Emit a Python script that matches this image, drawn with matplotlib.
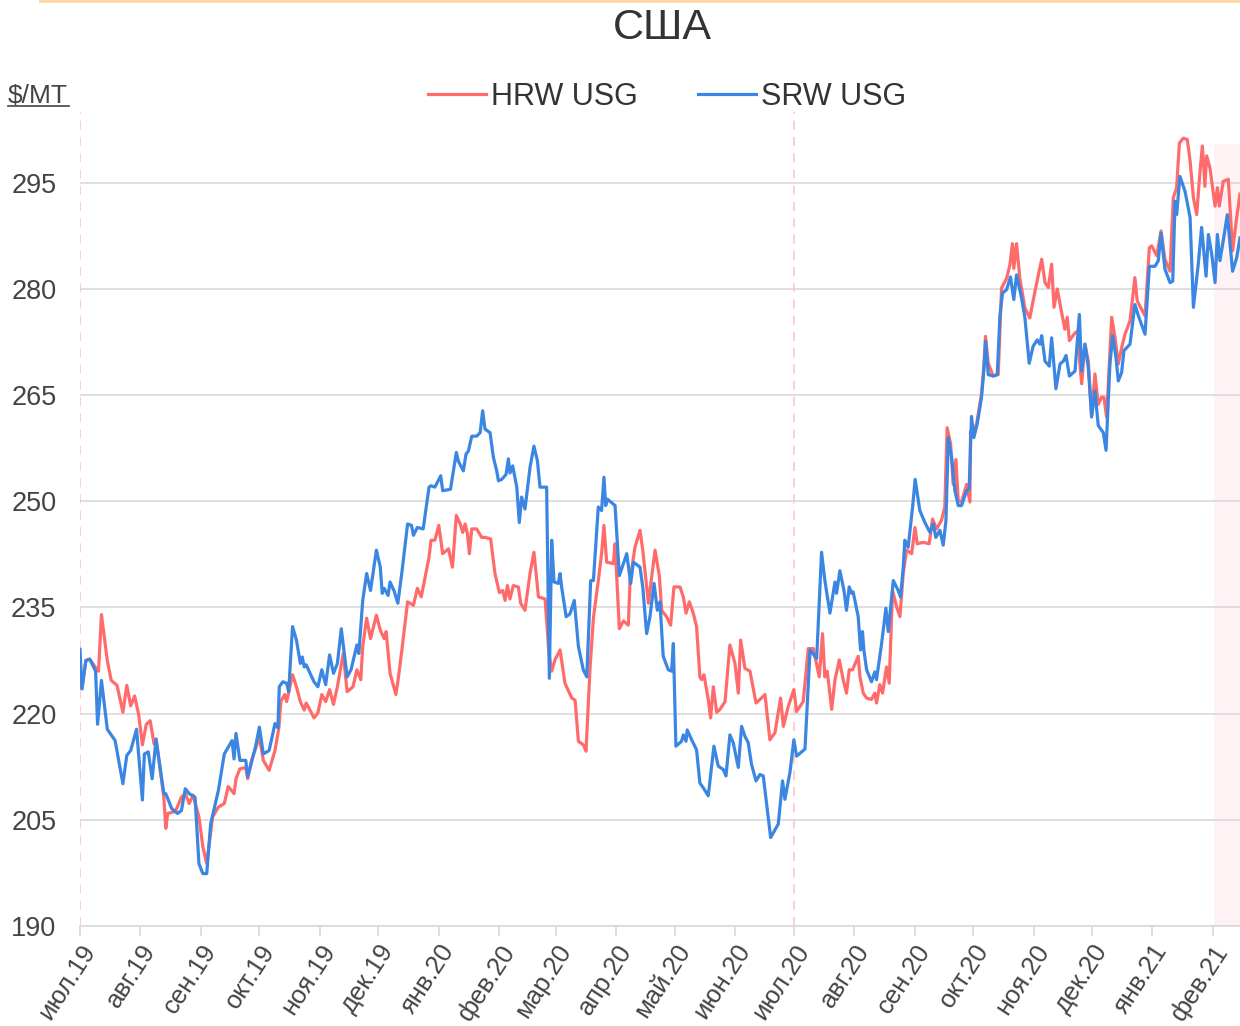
import numpy as np
import pandas as pd
import matplotlib
matplotlib.use("Agg")
import matplotlib.pyplot as plt
from matplotlib.lines import Line2D

plt.rcParams['font.family'] = ['Liberation Sans', 'DejaVu Sans']

start = pd.Timestamp('2019-07-01')

# дни от 01.07.2019 и цены, $/MT
hrw_days = [0, 1, 3, 5, 8, 9.5, 11, 14, 16, 19, 22, 24, 26, 28, 30, 32, 34, 36, 38, 39,
            43, 44, 45, 49, 52, 54, 56, 58, 61, 63, 65, 68, 71, 74, 76, 79, 80, 82, 85, 86,
            88, 92, 94, 97, 100,
            102, 103, 105, 106, 109, 111, 113, 115, 116, 117, 120, 122, 124, 126, 128, 130, 132,
            135, 137, 140, 142, 144, 145, 147, 149, 152, 154, 156, 157, 159, 162, 163, 165, 168,
            171, 173, 175, 179, 180, 182, 184, 186, 189, 191, 193,
            195, 196.3, 197.5, 198.7, 199.7, 200.9, 203.4, 206, 207.7, 210.6, 212.8, 215.1, 216.8,
            218, 219.2, 220.5, 222.2, 224.8, 226, 228.2, 230.8, 232.8, 235.1, 238.5, 240.5, 241.9,
            243.6, 246.2, 248.7, 252.2, 253.9, 255.6, 258.1, 259.5, 261.6, 263.3, 265.8, 267.5,
            268.7, 270.1, 273.5, 274.4, 276.6, 278.7, 281.2, 282.1, 284.6, 287.2, 288.6, 291.5,
            294.9, 297.1, 298.3, 300.8, 302.9, 304.6, 307.7, 309.4, 310.8, 312.5, 314.5, 316.2,
            317.9, 318.8, 320, 322.2, 323.4, 324.8, 326.5, 328.2, 330.8, 333.3, 335.9, 337.6,
            338.8, 341, 343.6, 346.7, 348.7, 351.3, 353.8, 356.4, 359.3, 360.7, 363.2, 366.1,
            367.5, 370.9, 373.5, 376.1, 379.1, 380.8, 382, 383.2, 385.5, 387.2, 389.4, 391.4,
            393.1, 394.5, 396.2, 399.1, 400, 401.7, 403.4, 405.9, 407.6, 408.5, 410.2, 411.6,
            413.6, 415, 416.7, 418.8, 420.5, 422.2, 423.9, 426.5, 428.2, 429.4, 432.4, 435.5,
            437.2, 439.3, 441.8, 443.5, 444.7, 446.5, 447.8, 449.2, 450.4, 452.1, 454.7, 456.4,
            456.7, 458.1, 459.8, 462.3, 463.5, 464.4, 465.8, 468.3, 470.9, 472.6, 475.2, 476.9,
            478.2, 478.9, 480.3, 482, 484.6, 487.1, 489.7,
            493.2, 494.9, 496.6, 498.3, 499.5, 501.2, 503.4, 505.1, 506.3, 507.4, 510.3, 512,
            512.8, 513.7, 515.4, 517.1, 518.8, 520.5, 522.2, 523.9, 525.1, 526.5, 529.1, 530.8,
            532.5, 534.2, 535.9, 538.5, 541, 542.2, 546.2, 548.4, 549.6, 552.2, 554.4, 556.4,
            559, 560.7, 562.4, 563.8, 565.8, 567.9, 569.3, 571, 572.7, 574.4, 575.6, 576.9,
            577.8, 579.5, 582.1, 583.3, 584.3, 586.3, 588.9, 591.1, 593.2, 594.9]
hrw_vals = [225.5, 223.5, 227.5, 227.7, 226.5, 226.0, 234.0, 227.5, 224.7, 224.0, 220.2, 224.0,
            221.1, 222.5, 220.0, 215.6, 218.5, 219.0, 215.7, 216.4, 208.2, 203.8, 205.9, 206.2,
            208.2, 208.7, 207.3, 208.5, 205.4, 201.2, 198.8, 205.4, 206.8, 207.3, 209.7, 208.7,
            210.8, 212.2, 212.4, 210.8, 213.4, 216.7, 213.4, 212.0, 214.8,
            218.0, 221.7, 222.7, 221.7, 225.5, 223.8, 221.7, 220.5, 221.5, 221.0, 219.4, 220.1,
            222.7, 221.7, 223.4, 221.3, 223.8, 228.5, 223.1, 223.8, 226.2, 224.8, 229.5, 233.5,
            230.6, 233.9, 231.8, 230.6, 231.6, 225.7, 222.7, 224.5, 228.8, 235.8, 235.3, 237.7,
            236.5, 242.1, 244.5, 244.5, 246.6, 242.6, 243.3, 240.7, 248.0,
            246.8, 245.6, 246.8, 245.4, 242.6, 246.1, 246.1, 244.9, 244.9, 244.7, 239.8, 237.1,
            237.4, 236.0, 238.1, 236.2, 238.1, 237.9, 235.6, 234.6, 239.8, 242.8, 236.5, 236.2,
            228.5, 226.0, 227.6, 229.0, 224.3, 222.2, 221.9, 216.1, 215.6, 214.7, 226.6, 233.5,
            238.8, 242.6, 246.6, 241.4, 241.2, 244.0, 232.0, 233.1, 232.5, 238.8, 243.5, 245.9,
            243.1, 235.6,
            243.1, 239.5, 234.6, 233.7, 232.5, 237.9, 237.9, 236.5, 234.2, 235.8, 234.2, 232.3,
            225.2, 224.8, 225.5, 222.0, 219.4, 223.8, 220.2, 220.6, 221.7, 229.7, 227.1, 222.9,
            230.4, 226.4, 226.0, 221.5, 222.0, 222.7, 216.3, 217.3, 222.2, 218.2, 221.0, 223.4,
            220.3, 221.7, 229.2, 229.2, 225.2, 231.3, 225.2, 226.0, 220.6, 224.8, 227.6, 224.8,
            222.9, 226.2, 226.2, 228.1, 225.2, 222.9, 222.2, 222.0, 222.9, 221.5, 224.1, 222.9,
            226.6, 224.3, 237.4, 235.1, 233.7, 239.8, 243.1, 242.6, 246.3, 244.0, 244.2, 244.0,
            247.5, 246.1, 247.3, 249.2, 260.4, 258.1, 252.4, 255.9, 250.1, 249.9, 252.4, 249.9,
            259.9, 259.9, 260.9, 265.1, 268.8, 273.3, 269.5, 267.7, 267.9, 280.1, 281.5, 283.4,
            286.4, 282.9, 286.4, 281.5, 277.3, 275.9, 279.6,
            284.2, 280.9, 280.2, 283.5, 277.4, 280.0, 276.7, 274.3, 276.0, 272.7, 273.8, 274.1,
            269.4, 266.6, 272.2, 269.8, 262.1, 268.0, 263.7, 264.7, 264.7, 261.9, 276.0, 273.1,
            269.4, 271.7, 273.6, 275.5, 281.6, 278.3, 276.2, 285.8, 286.1, 284.7, 288.2, 284.2,
            282.5, 292.9, 294.3, 300.6, 301.3, 301.1, 298.1, 292.9, 290.5, 296.6, 300.2, 294.5,
            298.8, 297.1, 291.7, 294.3, 291.7, 295.2, 295.5, 285.4, 290.1, 293.4]

srw_days = [0, 1, 3, 5, 8, 9, 11, 14, 18, 22, 24, 26, 29, 32, 33, 35, 37, 39, 43, 44, 47, 50,
            52, 54, 56, 59, 61, 63, 65, 67, 71, 74, 78, 79, 80, 82, 85, 86, 90, 92, 94, 97,
            100, 101.5, 102.2, 104, 106, 107, 109, 111, 113, 114, 115, 116, 120, 122, 124, 126,
            128, 130, 132, 134, 137, 139, 142, 143, 145, 147, 149, 152, 154, 155, 156, 158, 159,
            161, 163, 165, 168, 170, 171, 173, 176, 179, 180, 182, 185, 186, 190, 193, 194,
            196.6, 198, 199.2, 200.9, 203.4, 205.2, 206.5, 207.7, 210.3, 212, 213.7, 214.6,
            216.3, 218.5, 219.7, 220.5, 221.9, 224, 225.3, 226.5, 228.2, 230.8, 232.8, 234.6,
            235.9, 239.3, 240.7, 241.9, 243.1, 245.3, 246.2, 247, 249.3, 251.3, 253.5, 255.6,
            258.1, 259.9, 261.9, 263.3, 265.8, 267.5, 268.7, 269.6, 270.5, 274.4, 276.6, 280.4,
            282.4, 283.8, 287.2, 288.6, 290.6,
            292.3, 294.4, 296.1, 297.4, 299.1, 301.7, 303.4, 304.3, 305.6, 308.5, 309.4, 310.8,
            311.4, 313.7, 316.2, 317.9, 319.7, 322.2, 325.1, 327.3, 329.9, 331.3, 333.3, 335,
            337.6, 339.3, 341, 342.7, 344.4, 346.7, 348.7, 350.4, 354.2, 358.1, 360.3, 361.5,
            364.1, 366.1, 367.5, 371.8, 374.4, 377.8, 380.3, 382, 384.6, 387.2, 388,
            389.7, 391.8, 393.1, 394.5, 395.7, 396.5, 399.1, 400.3, 401.3, 402, 403.4, 405.9,
            407.6, 408.5, 411.1, 413.3, 414.5, 417.1, 419.6, 420.8, 422.2, 423, 424.7, 427,
            428.3, 430.7, 433.3, 435.9, 437.6, 438.9, 441, 442.7, 444.1, 445.3, 447, 448.7,
            450.4, 452.1, 454.7, 456, 457.2, 458.4, 460.1, 462.3, 463.5, 464.4, 465.8, 468.3,
            470.4, 471.8, 473.1, 475.2, 477.2, 478.9, 480.3, 482.9, 484.6, 486.8, 488.8, 490.9,
            492.3, 493.2, 494.9, 497.1, 498.3, 500.5, 502.6, 504.3, 505.7, 507.4, 510.3, 512.5,
            513.7, 515.4, 517.1, 518.8, 520.5, 522.2, 524.8, 526.2, 528.2, 529.6, 531.3, 532.5,
            534.2, 535.4, 538.5, 541, 542.8, 546.2, 548.4, 551.3, 553, 554.4, 556.4, 559,
            560.4, 561.6, 562.4, 564.1, 566.7, 569.3, 571, 573.5, 575.2, 577.5, 578.7, 580.4,
            582.1, 583.3, 584.6, 586.3, 588.4, 591.1, 593.2, 594.9]
srw_vals = [229.1, 223.5, 227.5, 227.7, 226.0, 218.5, 224.7, 217.8, 216.2, 210.1, 214.1, 214.8,
            217.8, 207.8, 214.3, 214.6, 210.8, 216.4, 208.7, 208.7, 206.6, 205.9, 206.3, 209.4,
            208.7, 208.2, 198.8, 197.4, 197.4, 204.4, 209.2, 214.3, 216.2, 213.6, 217.2, 213.4,
            213.4, 211.1, 215.3, 218.1, 214.3, 214.8,
            218.6, 218.0, 223.8, 224.5, 224.3, 223.1, 232.3, 230.4, 227.1, 228.0, 226.6, 226.9,
            224.5, 223.8, 226.2, 224.1, 228.3, 225.7, 227.1, 232.0, 225.2, 226.2, 229.7, 228.5,
            236.0, 239.8, 237.4, 243.1, 240.7, 237.0, 237.7, 236.7, 238.6, 237.4, 235.6, 239.8,
            246.8, 246.6, 245.2, 246.3, 246.1, 252.0, 252.2, 252.0, 253.6, 251.5, 251.7, 256.9,
            255.7,
            254.3, 256.7, 257.1, 259.2, 259.2, 259.7, 262.8, 260.2, 259.7, 256.2, 254.3, 252.9,
            253.1, 253.8, 256.0, 254.0, 255.0, 252.0, 247.0, 250.6, 248.9, 254.8, 257.8, 255.7,
            252.0, 252.0, 225.0, 244.5, 238.6, 238.4, 239.8, 237.9, 233.7, 234.1, 236.0, 229.5,
            226.2, 225.2, 238.8, 238.8, 249.2, 248.7, 253.4, 249.4, 250.3, 249.4, 239.5, 242.6,
            238.4, 241.4, 240.7, 237.9, 231.3,
            233.7, 238.4, 234.6, 235.8, 228.1, 226.2, 226.0, 229.9, 215.4, 216.1, 217.0, 216.1,
            217.7, 216.3, 214.9, 210.2, 209.5, 208.4, 215.4, 212.6, 212.1, 211.2, 217.0, 215.9,
            212.4, 218.2, 216.8, 215.9, 212.8, 210.5, 211.4, 211.2, 202.5, 204.4, 210.5, 207.9,
            211.7, 216.3, 214.0, 215.0, 229.0, 227.8, 242.8, 238.8, 234.2, 238.6, 237.0,
            240.2, 237.4, 234.6, 237.9, 237.0, 237.2, 233.7, 229.0, 231.6, 229.0, 226.2, 224.5,
            225.9, 224.8, 229.9, 234.9, 231.6, 238.8, 237.4, 236.5, 240.7, 244.5, 243.5, 249.2,
            253.1, 248.7, 247.0, 245.6, 246.8, 244.9, 245.9, 243.8, 247.3, 259.0, 256.2, 251.5,
            249.4, 249.4, 251.5, 251.7, 262.0, 259.0, 260.9, 264.6, 268.4, 272.6, 267.9, 267.7,
            267.9, 276.3, 279.4, 279.9, 281.7, 278.5, 282.0, 278.7, 275.9, 269.5, 271.9, 272.8,
            272.2, 273.4, 269.8, 269.1, 273.1, 265.9, 269.4, 269.8, 270.6, 267.7, 268.4, 276.4,
            268.4, 272.2, 268.9, 261.9, 265.6, 260.7, 259.7, 257.2, 269.4, 273.4, 270.3, 267.0,
            268.2, 271.3, 272.2, 277.8, 276.2, 273.6, 283.2, 283.2, 284.0, 287.9, 282.8, 280.9,
            281.1, 292.4, 290.5, 295.9, 293.8, 290.1, 277.4, 283.5, 288.7, 281.8, 287.7, 284.9,
            280.9, 287.7, 284.0, 286.8, 290.5, 282.5, 284.4, 287.2]

month_labels = ['июл.19', 'авг.19', 'сен.19', 'окт.19', 'ноя.19', 'дек.19', 'янв.20',
                'фев.20', 'мар.20', 'апр.20', 'май.20', 'июн.20', 'июл.20', 'авг.20',
                'сен.20', 'окт.20', 'ноя.20', 'дек.20', 'янв.21', 'фев.21']
y_ticks = [190, 205, 220, 235, 250, 265, 280, 295]
marker_dates = ['2019-07-01', '2020-07-01']
shade_from = 581.7

W, H = 1240, 1026
fig = plt.figure(figsize=(W / 100, H / 100), dpi=100)
ax = fig.add_axes([80 / W, 1 - 926 / H, 1160 / W, (926 - 112) / H])

hrw_x = start + pd.to_timedelta(hrw_days, unit='D')
srw_x = start + pd.to_timedelta(srw_days, unit='D')
end = start + pd.Timedelta(days=594.9)

ax.axvspan(start + pd.Timedelta(days=shade_from), end + pd.Timedelta(days=5),
           ymax=(300.5 - 190) / (305 - 190), color='#fff2f4', lw=0, zorder=0)
for d in marker_dates:
    ax.axvline(pd.Timestamp(d), color='#ffc9c9', lw=1.3, ls=(0, (5, 4)), zorder=1)

ax.plot(hrw_x, hrw_vals, color='#ff6b6b', lw=2.3, label='HRW USG', zorder=3)
ax.plot(srw_x, srw_vals, color='#3a86e2', lw=2.3, label='SRW USG', zorder=4)

ax.set_xlim(start, end)
ax.set_ylim(190, 305)
ax.set_yticks(y_ticks)
ax.yaxis.grid(True, color='#d9d9d9', lw=1.2)
ax.set_axisbelow(True)
for s in ['top', 'right', 'left']:
    ax.spines[s].set_visible(False)
ax.spines['bottom'].set_color('#d9d9d9')
ax.spines['bottom'].set_linewidth(1.2)

ticks = pd.date_range('2019-07-01', '2021-02-01', freq='MS')
ax.set_xticks(ticks)
ax.set_xticklabels(month_labels, rotation=57, ha='right', rotation_mode='anchor')
ax.tick_params(axis='x', length=7, width=1.2, color='#d9d9d9', labelsize=18.5,
               labelcolor='#444444', pad=3)
ax.tick_params(axis='y', length=0, labelsize=19.5, labelcolor='#444444', pad=17)

fig.text(662 / W, 1 - 28 / H, 'США', ha='center', va='center', fontsize=31, color='#333333')
fig.legend(loc='center', bbox_to_anchor=(667 / W, 1 - 97 / H), ncol=2, frameon=False,
           fontsize=22, handlelength=1.9, handletextpad=0.15, columnspacing=2.0,
           labelcolor='#333333')
fig.text(8 / W, 1 - 96 / H, '$/MT', ha='left', va='center', fontsize=19, color='#444444')
fig.add_artist(Line2D([8 / W, 69 / W], [1 - 106 / H, 1 - 106 / H], color='#444444', lw=1.2))
fig.add_artist(Line2D([40 / W, 1.0], [1 - 1 / H, 1 - 1 / H], color='#fcd9a0', lw=2))

fig.savefig('out.png', dpi=100)
